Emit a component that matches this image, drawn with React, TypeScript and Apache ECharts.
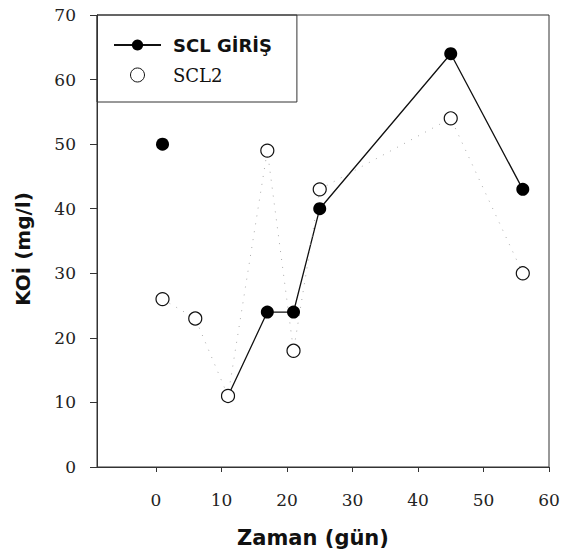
import React, { useEffect, useRef } from "react";
import * as echarts from "echarts";

const days = [1, 6, 11, 17, 21, 25, 45, 56];
const sclGiris: (number | null)[] = [50, null, 11, 24, 24, 40, 64, 43];
const scl2: number[] = [26, 23, 11, 49, 18, 43, 54, 30];
const xTicks = [0, 10, 20, 30, 40, 50, 60];
const seriesNames = ["SCL GİRİŞ", "SCL2"];

export default function App() {
  const ref = useRef<HTMLDivElement>(null);
  useEffect(() => {
    if (!ref.current) return;
    const chart = echarts.init(ref.current, undefined, { renderer: "svg" });
    const pairs = (ys: (number | null)[]) =>
      days.map((d, i) => [d, ys[i] === null ? "-" : ys[i]]);
    chart.setOption({
      animation: false,
      backgroundColor: "#fff",
      grid: {
        left: 97,
        top: 15,
        right: 14,
        bottom: 92,
        show: true,
        borderColor: "#333",
        borderWidth: 1,
      },
      legend: {
        left: 97,
        top: 15,
        orient: "vertical",
        borderColor: "#333",
        borderWidth: 1,
        padding: [21, 25, 18, 16],
        itemGap: 12,
        itemWidth: 47,
        itemHeight: 14,
        textStyle: { color: "#111", fontSize: 18, padding: [0, 0, 0, 7] },
        data: [
          {
            name: seriesNames[0],
            textStyle: { fontFamily: "DejaVu Sans", fontWeight: "bold" },
          },
          {
            name: seriesNames[1],
            icon: "circle",
            itemStyle: { color: "#fff", borderColor: "#111", borderWidth: 1 },
            textStyle: { fontFamily: "DejaVu Serif" },
          },
        ],
      },
      xAxis: {
        type: "value",
        min: -9,
        max: 60,
        name: "Zaman (gün)",
        nameLocation: "middle",
        nameGap: 60,
        nameTextStyle: {
          fontFamily: "DejaVu Sans",
          fontWeight: "bold",
          fontSize: 21,
          color: "#111",
          padding: [0, 20, 0, 0],
        },
        axisLine: { onZero: false, lineStyle: { color: "#333", width: 1 } },
        axisTick: {
          customValues: xTicks,
          length: 5,
          lineStyle: { color: "#333" },
        },
        axisLabel: {
          customValues: xTicks,
          margin: 24,
          fontFamily: "DejaVu Serif",
          fontSize: 17,
          color: "#222",
        },
        splitLine: { show: false },
      },
      yAxis: {
        type: "value",
        min: 0,
        max: 70,
        interval: 10,
        name: "KOİ (mg/l)",
        nameLocation: "middle",
        nameGap: 64,
        nameTextStyle: {
          fontFamily: "DejaVu Sans",
          fontWeight: "bold",
          fontSize: 20,
          color: "#111",
          padding: [0, 16, 0, 0],
        },
        axisLine: {
          show: true,
          onZero: false,
          lineStyle: { color: "#333", width: 1 },
        },
        axisTick: { show: true, length: 7, lineStyle: { color: "#333" } },
        axisLabel: {
          margin: 21,
          fontFamily: "DejaVu Serif",
          fontSize: 17,
          color: "#222",
        },
        splitLine: { show: false },
      },
      series: [
        {
          name: seriesNames[0],
          type: "line",
          data: pairs(sclGiris),
          connectNulls: false,
          symbol: "circle",
          symbolSize: 13,
          showAllSymbol: true,
          itemStyle: { color: "#000" },
          lineStyle: { color: "#111", width: 1.3 },
        },
        {
          name: seriesNames[1],
          type: "line",
          data: pairs(scl2),
          symbol: "circle",
          symbolSize: 13,
          showAllSymbol: true,
          itemStyle: { color: "#fff", borderColor: "#111", borderWidth: 1.2 },
          lineStyle: { color: "#aaa", width: 1, type: [1, 7] },
        },
      ],
    });
    return () => chart.dispose();
  }, []);
  return (
    <div
      ref={ref}
      style={{ position: "fixed", left: 0, top: 0, width: 563, height: 559 }}
    />
  );
}
